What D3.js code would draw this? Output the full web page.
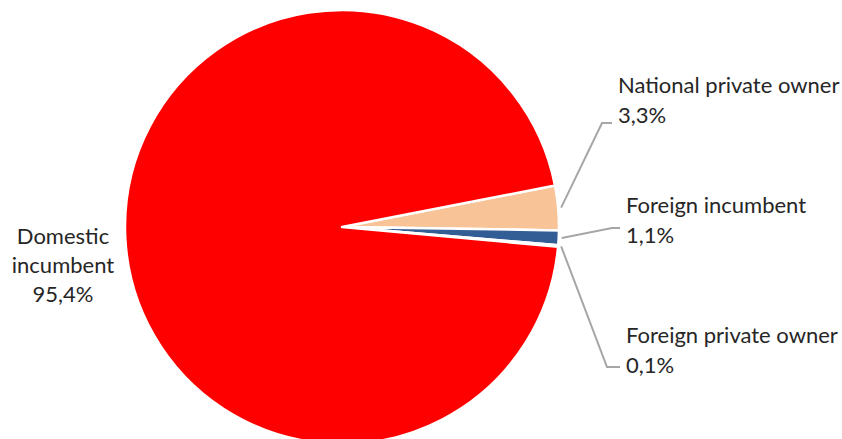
<!DOCTYPE html>
<html>
<head>
<meta charset="utf-8">
<script src="https://cdn.jsdelivr.net/npm/d3@7"></script>
<style>
  body { margin: 0; background: #fff; }
  text { font-family: Lato, "Open Sans", sans-serif; fill: #262626; }
</style>
</head>
<body>
<svg id="pie" width="842" height="439"></svg>
<script>
// data
const categories = ["National private owner", "Foreign incumbent", "Foreign private owner", "Domestic incumbent"];
const shares = [3.3, 1.1, 0.1, 95.4];
const shareLabels = ["3,3%", "1,1%", "0,1%", "95,4%"];
const colors = ["#F8C396", "#335E95", "#C00000", "#FF0000"];

const svg = d3.select("#pie");
const width = +svg.attr("width");
const height = +svg.attr("height");

const cx = 342, cy = 227, radius = 217;

const g = svg.append("g").attr("transform", `translate(${cx},${cy})`);

const startDeg = 79;
const pie = d3.pie()
  .sort(null)
  .value(d => d.value)
  .startAngle(startDeg * Math.PI / 180)
  .endAngle((startDeg + 360) * Math.PI / 180);

const data = categories.map((c, i) => ({ name: c, value: shares[i], label: shareLabels[i], color: colors[i] }));
const arcs = pie(data);

const arc = d3.arc().innerRadius(0).outerRadius(radius);
const outer = d3.arc().innerRadius(radius + 3).outerRadius(radius + 3);

g.selectAll("path.slice")
  .data(arcs)
  .enter()
  .append("path")
  .attr("class", "slice")
  .attr("d", arc)
  .attr("fill", d => d.data.color)
  .attr("stroke", "#fff")
  .attr("stroke-width", 2.5)
  .attr("stroke-linejoin", "round");

// leader lines and labels (right side slices)
const labelPos = [
  { elbow: [602, 123], end: [612, 123], x: 618, y: 93 },
  { elbow: [612, 228], end: [620, 228], x: 626, y: 213 },
  { elbow: [607, 367], end: [620, 367], x: 626, y: 343 }
];

arcs.slice(0, 3).forEach((d, i) => {
  const p = outer.centroid(d);
  const lp = labelPos[i];
  svg.append("polyline")
    .attr("points", [[p[0] + cx, p[1] + cy], lp.elbow, lp.end].map(q => q.join(",")).join(" "))
    .attr("fill", "none")
    .attr("stroke", "#A6A6A6")
    .attr("stroke-width", 2);
  const t = svg.append("text")
    .attr("x", lp.x)
    .attr("y", lp.y)
    .attr("font-size", 22);
  t.append("tspan").attr("x", lp.x).text(d.data.name);
  t.append("tspan").attr("x", lp.x).attr("dy", 29.5).text(d.data.label);
});

// domestic incumbent label on the left
const dom = arcs[3];
const dt = svg.append("text")
  .attr("text-anchor", "middle")
  .attr("y", 244)
  .attr("font-size", 22);
const domWords = ["Domestic", "incumbent", dom.data.label];
domWords.forEach((w, i) => {
  dt.append("tspan").attr("x", 63).attr("dy", i === 0 ? 0 : 29).text(w);
});
</script>
</body>
</html>
